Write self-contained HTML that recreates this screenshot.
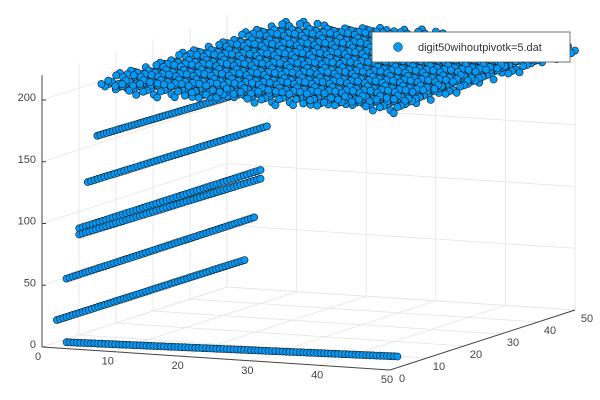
<!DOCTYPE html>
<html><head><meta charset="utf-8"><style>
html,body{margin:0;padding:0;background:#fff;}
svg{display:block;font-family:"Liberation Sans",sans-serif;}
</style></head><body>
<svg id="chart" width="600" height="400" viewBox="0 0 600 400">
<g id="grid"></g>
<g id="axes"></g>
<g id="marks"></g>
<g>
<rect x="372" y="32" width="198" height="30" fill="#fff" stroke="#555" stroke-width="0.8"/>
<circle cx="398" cy="47" r="4.5" fill="#009af9" stroke="#222" stroke-width="0.5"/>
<text x="418" y="51" font-size="11" fill="#333">digit50wihoutpivotk=5.dat</text>
</g>
</svg>
<script>
// tick labels
const xTicks=[0,10,20,30,40,50];
const yTicks=[0,10,20,30,40,50];
const zTicks=[0,50,100,150,200];
// streaks: x start/end, y start/end, z start/end, point count
const streakX0=[3,1.4,2.3,3.5,3.5,4.3,5.2];
const streakX1=[50,19,19.9,20.5,20.5,21.1,19.5];
const streakY0=[1,1.4,2.3,3.5,3.5,4.3,5.2];
const streakY1=[2,19,19.9,20.5,20.5,21.1,19.5];
const streakZ0=[4,21,54,94,89,131,168];
const streakZ1=[9,59,93,131,124,166,196];
const streakN=[96,60,60,55,55,55,50];
// top surface extent and height
const surfX=[8,50];
const surfY=[1,50];
const surfZ=[213];
const surfBumps=[0,3,-2,5,-4,1,6,-3,2,-5,4,-1,3,-6,0,5,-2];

const NS="http://www.w3.org/2000/svg";
function P(x,y,z){return [42+6.96*x+3.7*y, 347+0.46*x-1.2*y-1.235*z];}
function mk(tag,attrs,parent){const e=document.createElementNS(NS,tag);for(const k in attrs)e.setAttribute(k,attrs[k]);parent.appendChild(e);return e;}
const grid=document.getElementById('grid'),axes=document.getElementById('axes'),marks=document.getElementById('marks');
function line(a,b,par,col,w,name){const l=mk('line',{x1:a[0],y1:a[1],x2:b[0],y2:b[1],stroke:col,'stroke-width':w},par);

}
const gc='#e4e4e4';
// side wall (x=0) and back wall (y=50) and floor (z=0)
for(const z of zTicks){line(P(0,0,z),P(0,50,z),grid,gc,0.8,'z-grid-line');line(P(0,50,z),P(50,50,z),grid,gc,0.8,'z-grid-line');}
for(const y of yTicks){line(P(0,y,0),P(0,y,220),grid,gc,0.8,'y-grid-line');line(P(0,y,0),P(50,y,0),grid,gc,0.8,'y-grid-line');}
for(const x of xTicks){line(P(x,50,0),P(x,50,220),grid,gc,0.8,'x-grid-line');line(P(x,0,0),P(x,50,0),grid,gc,0.8,'x-grid-line');}
// axes
line(P(0,0,0),P(0,0,220),axes,'#444',1,'z-axis');
line(P(0,0,0),P(50,0,0),axes,'#444',1,'x-axis');
line(P(50,0,0),P(50,50,0),axes,'#444',1,'y-axis');
function txt(s,x,y,anchor,name){const t=mk('text',{x:x,y:y,'font-size':11,fill:'#444','text-anchor':anchor},axes);t.textContent=s;

}
for(const z of zTicks){const p=P(0,0,z);line(p,[p[0]+4,p[1]],axes,'#444',1,'z-tick');txt(String(z),p[0]-6,p[1]+1,'end','z-tick-label');}
for(const x of xTicks){const p=P(x,0,0);txt(String(x),p[0]-4+x*0.02,p[1]+13,'middle','x-tick-label');}
for(const y of yTicks){const p=P(50,y,0);txt(String(y),p[0]+12,p[1]+12,'middle','y-tick-label');}
function dot(x,y,z){const p=P(x,y,z);const c=mk('circle',{cx:p[0].toFixed(1),cy:p[1].toFixed(1),r:3.6,fill:'#009af9',stroke:'#1a1a1a','stroke-width':0.6},marks);

}
for(let s=0;s<streakX0.length;s++){const n=streakN[s];
 for(let i=0;i<n;i++){const t=i/(n-1);
  dot(streakX0[s]+(streakX1[s]-streakX0[s])*t,streakY0[s]+(streakY1[s]-streakY0[s])*t,streakZ0[s]+(streakZ1[s]-streakZ0[s])*t);}}
for(let j=surfY[1];j>=surfY[0];j--){for(let i=surfX[0];i<=surfX[1];i++){
 dot(i,j,surfZ[0]+surfBumps[(i*7+j*3)%surfBumps.length]);}}
</script>
</body></html>
